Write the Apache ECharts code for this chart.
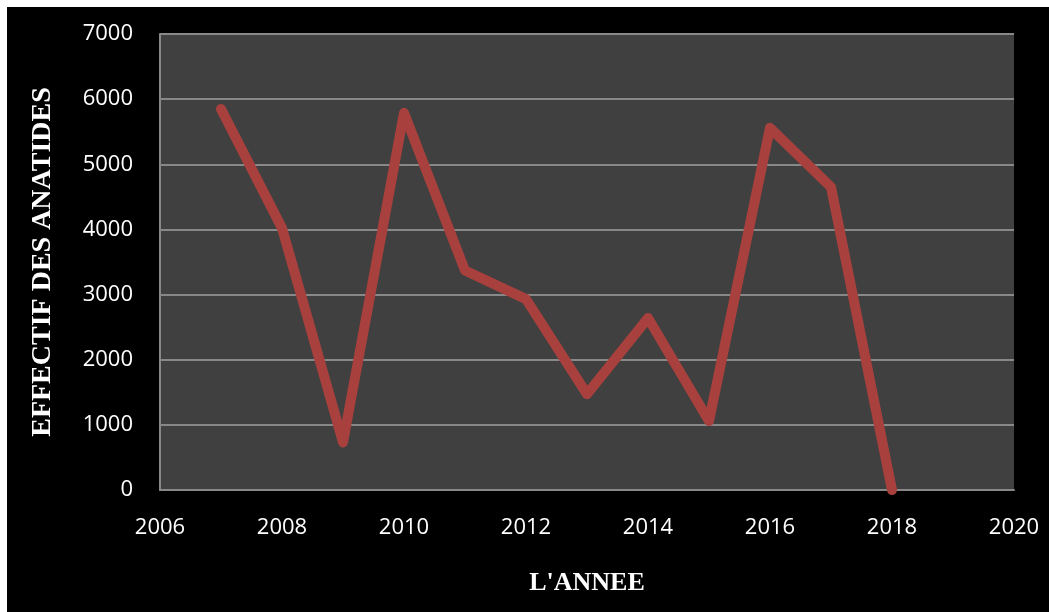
<!DOCTYPE html>
<html>
<head>
<meta charset="utf-8">
<script src="https://cdn.jsdelivr.net/npm/echarts@6/dist/echarts.min.js"></script>
<style>
html,body{margin:0;padding:0;background:#ffffff;width:1049px;height:612px;overflow:hidden;}
#chart{position:absolute;left:7px;top:7px;width:1042px;height:605px;background:#000000;}
</style>
</head>
<body>
<div id="chart"></div>
<script>
const years = [2007, 2008, 2009, 2010, 2011, 2012, 2013, 2014, 2015, 2016, 2017, 2018];
const effectif = [5850, 4020, 730, 5790, 3370, 2930, 1470, 2640, 1060, 5560, 4650, 0];
const yTicks = [0, 1000, 2000, 3000, 4000, 5000, 6000, 7000];
const xTicks = [2006, 2008, 2010, 2012, 2014, 2016, 2018, 2020];

const chart = echarts.init(document.getElementById('chart'), null, {renderer: 'canvas'});
const labelFont = {color: '#ffffff', fontSize: 22, fontFamily: 'Open Sans, Liberation Sans, sans-serif'};
const xNameFont = {color: '#ffffff', fontSize: 26, fontWeight: 'bold', fontFamily: 'Liberation Serif, Times New Roman, serif'};
const yNameFont = {color: '#ffffff', fontSize: 28, fontWeight: 'bold', fontFamily: 'Liberation Serif, Times New Roman, serif'};
chart.setOption({
  backgroundColor: '#000000',
  animation: false,
  grid: {left: 153, top: 27, right: 35, bottom: 122, show: true, backgroundColor: '#404040', borderWidth: 0},
  xAxis: {
    type: 'value', min: xTicks[0], max: xTicks[xTicks.length - 1], interval: 2,
    name: "L'ANNEE", nameLocation: 'middle', nameGap: 80, nameTextStyle: xNameFont,
    axisLine: {show: true, lineStyle: {color: '#888888', width: 2}},
    axisTick: {show: false},
    splitLine: {show: false},
    axisLabel: Object.assign({margin: 27, formatter: v => String(v)}, labelFont)
  },
  yAxis: {
    type: 'value', min: yTicks[0], max: yTicks[yTicks.length - 1], interval: 1000,
    name: 'EFFECTIF DES ANATIDES', nameLocation: 'middle', nameRotate: 90, nameGap: 103, nameTextStyle: yNameFont,
    axisLine: {show: true, lineStyle: {color: '#888888', width: 2}},
    axisTick: {show: false},
    splitLine: {show: true, lineStyle: {color: '#888888', width: 2}},
    axisLabel: Object.assign({margin: 27, formatter: v => String(v)}, labelFont)
  },
  series: [{
    type: 'line',
    data: years.map((y, i) => [y, effectif[i]]),
    showSymbol: false,
    symbol: 'none',
    lineStyle: {color: '#A8403D', width: 10, cap: 'round', join: 'round'},
    itemStyle: {color: '#A8403D'}
  }]
});
</script>
</body>
</html>
